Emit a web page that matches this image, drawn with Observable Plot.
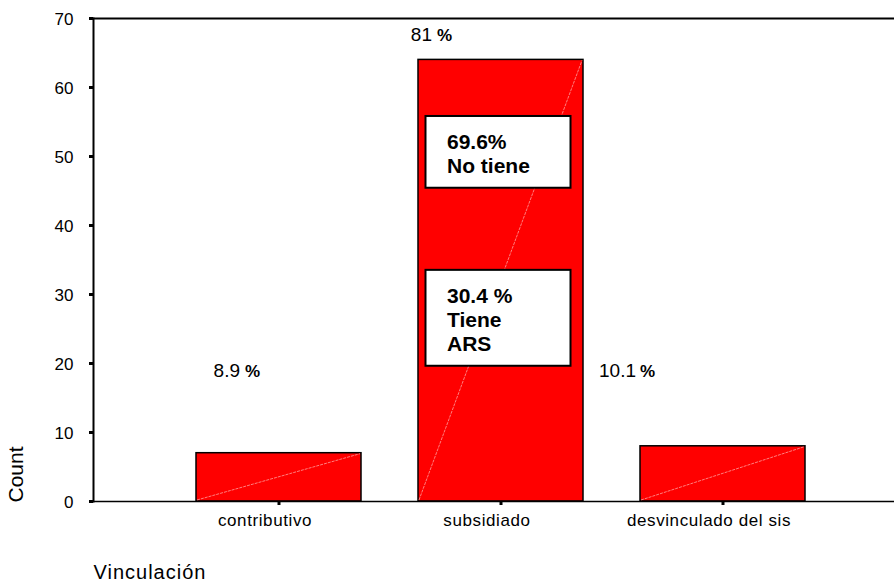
<!DOCTYPE html>
<html>
<head>
<meta charset="utf-8">
<script src="https://cdn.jsdelivr.net/npm/d3@7"></script>
<script src="https://cdn.jsdelivr.net/npm/@observablehq/plot@0.6"></script>
<style>
  html, body { margin: 0; padding: 0; background: #fff; }
  #chart svg { display: block; }
</style>
</head>
<body>
<div id="chart"></div>
<script>
// ---- data ----
const categories = ["contributivo", "subsidiado", "desvinculado del sis"];
const counts = [7, 64, 8];
const yTicks = [0, 10, 20, 30, 40, 50, 60, 70];
const boxLines = ["69.6%\nNo tiene", "30.4 %\nTiene\nARS"];
const boxLow = [45.4, 19.6];
const boxHigh = [55.8, 33.5];

const total = d3.sum(counts);
const bars = categories.map((c, i) => ({cat: c, count: counts[i], pct: +(counts[i] / total * 100).toFixed(1)}));
const boxes = boxLines.map((t, i) => ({cat: "subsidiado", text: t, lo: boxLow[i], hi: boxHigh[i]}));

const narrow = "'Liberation Sans Narrow', 'Arial Narrow', 'Liberation Sans', Arial, sans-serif";

function pctLabel(i, y, dxNum, dxPct) {
  return [
    Plot.text([bars[i]], {x: "cat", y: () => y, text: d => String(d.pct), textAnchor: "end", lineAnchor: "bottom",
      dx: dxNum, fontSize: 19, fontFamily: narrow}),
    Plot.text([bars[i]], {x: "cat", y: () => y, text: () => "%", textAnchor: "start", lineAnchor: "bottom",
      dx: dxPct, fontSize: 17, fontWeight: "bold"})
  ];
}

const chart = Plot.plot({
  width: 894,
  height: 583,
  marginLeft: 93,
  marginRight: 0,
  marginTop: 18,
  marginBottom: 82,
  style: {fontFamily: "'Liberation Sans', Arial, sans-serif", background: "white", color: "black"},
  x: {domain: categories, paddingInner: 0.258, paddingOuter: 0.429, align: 0.534, label: null},
  y: {domain: [0, 70], label: null},
  marks: [
    Plot.barY(bars, {x: "cat", y: "count", fill: "#ff0000", stroke: "black", strokeWidth: 1.5}),
    Plot.ruleY([0], {strokeWidth: 1.5}),
    Plot.ruleY([70], {strokeWidth: 2}),
    Plot.frame({anchor: "left", strokeWidth: 2}),
    Plot.axisY(yTicks, {tickSize: 4, strokeWidth: 3, text: null, label: null}),
    Plot.text(yTicks, {y: d => d, frameAnchor: "left", text: d => String(d), textAnchor: "end",
      dx: -20, dy: 1, fontSize: 17}),
    Plot.axisX({tickSize: 4, strokeWidth: 3, text: null, label: null}),
    Plot.axisX({tickSize: 0, tickPadding: 12, dx: -14, fontSize: 17, label: null}),
    Plot.barY(boxes, {x: "cat", y1: "lo", y2: "hi", fill: "white", stroke: "black", strokeWidth: 2,
      insetLeft: 7.5, insetRight: 12.5}),
    Plot.text(boxes, {x: "cat", y: "hi", text: "text", textAnchor: "start", lineAnchor: "top",
      dx: -54, dy: 15.5, fontSize: 21, fontWeight: "bold", lineHeight: 1.15}),
    ...pctLabel(0, 18, -39, -34),
    ...pctLabel(1, 66.8, -69, -64),
    ...pctLabel(2, 18, -87, -83),
    Plot.text(["Count"], {frameAnchor: "bottom-left", text: d => d, rotate: -90, textAnchor: "start",
      dx: -71, dy: 1, fontSize: 21}),
    Plot.text(["Vinculación"], {frameAnchor: "bottom-left", text: d => d, textAnchor: "start",
      lineAnchor: "bottom", dy: 77, fontSize: 20})
  ]
});

document.getElementById("chart").appendChild(chart);

// faint diagonal hatch line inside each data bar (derived from rendered bar geometry)
const svg = d3.select(chart);
const barGroups = svg.selectAll('g[aria-label="bar"]').nodes();
if (barGroups.length) {
  d3.select(barGroups[0]).selectAll("rect").each(function () {
    const r = d3.select(this);
    const x = +r.attr("x"), y = +r.attr("y"), w = +r.attr("width"), h = +r.attr("height");
    d3.select(this.parentNode).insert("line", () => this.nextSibling)
      .attr("x1", x + 1).attr("y1", y + h - 1).attr("x2", x + w - 1).attr("y2", y + 1)
      .attr("stroke", "#ffb4b4").attr("stroke-width", 0.7).attr("stroke-dasharray", "3,1");
  });
}
svg.selectAll('g[aria-label="x-axis tick label"] text').style("letter-spacing", "0.6px");
svg.selectAll('g[aria-label="text"] text').filter(function () { return this.textContent === "Vinculación"; })
  .style("letter-spacing", "1px");
</script>
</body>
</html>
